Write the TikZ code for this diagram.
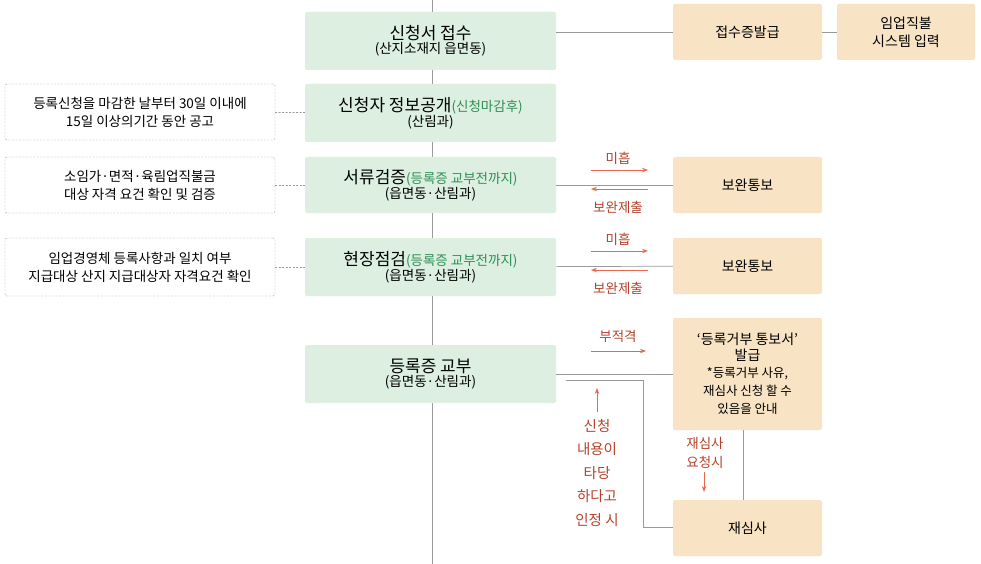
\documentclass[tikz,border=0pt]{standalone}
\usepackage{fontspec}
\setmainfont{Noto Sans CJK KR}
\usetikzlibrary{arrows.meta}
\definecolor{gf}{HTML}{DCEFE1}
\definecolor{bf}{HTML}{F8E4C4}
\definecolor{ar}{HTML}{E8674F}
\definecolor{tr}{HTML}{B5432C}
\definecolor{gt}{HTML}{2F8F55}
\definecolor{ln}{HTML}{9A9A9A}
\tikzset{
 gbox/.style={fill=gf,rounded corners=2pt,align=center,inner sep=0pt},
 bbox/.style={fill=bf,rounded corners=2pt,align=center,inner sep=0pt,font=\fontsize{14}{18}\selectfont},
 dbox/.style={draw=ln,dash pattern=on 2pt off 1.5pt,rounded corners=2pt,align=center,inner sep=0pt,font=\fontsize{13.5}{18}\selectfont},
 conn/.style={draw=ln,line width=0.7pt},
 dconn/.style={draw=ln,line width=0.7pt,dash pattern=on 2pt off 1.5pt},
 rarr/.style={draw=ar,line width=1pt,-{Stealth[length=6pt]}},
 rlab/.style={text=tr,font=\fontsize{13.5}{17}\selectfont,align=center},
}
\newcommand{\bt}[1]{{\fontsize{17}{21}\selectfont #1}}
\newcommand{\st}[1]{{\fontsize{13.5}{18}\selectfont #1}}
\newcommand{\bx}[6]{\node[#1,minimum width=#4pt,minimum height=#5pt] (#2) at (#3) {#6};}
\begin{document}
\begin{tikzpicture}[x=1pt,y=-1pt]
\useasboundingbox[fill=white] (0,0) rectangle (981,564);
\coordinate (vt) at (432,0); \coordinate (vb) at (432,564);
\draw[conn] (vt) -- (vb);
\bx{gbox}{a}{430.5,41}{251}{58}{\bt{신청서 접수}\\\st{(산지소재지 읍면동)}}
\bx{gbox}{b}{430.5,113}{251}{58}{\bt{신청자 정보공개}\st{\color{gt}(신청마감후)}\\\st{(산림과)}}
\bx{gbox}{c}{430.5,185}{251}{56}{\bt{서류검증}\st{\color{gt}(등록증 교부전까지)}\\\st{(읍면동·산림과)}}
\bx{gbox}{d}{430.5,267}{251}{58}{\bt{현장점검}\st{\color{gt}(등록증 교부전까지)}\\\st{(읍면동·산림과)}}
\bx{gbox}{e}{430.5,374}{251}{58}{\bt{등록증 교부}\\\st{(읍면동·산림과)}}
\bx{bbox}{r1}{747.5,32}{149}{56}{접수증발급}
\bx{bbox}{r2}{906,32}{138}{56}{임업직불\\시스템 입력}
\bx{bbox}{r3}{747.5,185}{149}{56}{보완통보}
\bx{bbox}{r4}{747.5,266}{149}{56}{보완통보}
\bx{bbox}{r5}{747.5,374}{149}{112}{‘등록거부 통보서’\\[-2pt]발급\\[-1pt]{\fontsize{12.5}{16}\selectfont *등록거부 사유,}\\{\fontsize{12.5}{16}\selectfont 재심사 신청 할 수}\\{\fontsize{12.5}{16}\selectfont 있음을 안내}}
\bx{bbox}{r6}{747.5,528}{149}{56}{재심사}
\bx{dbox}{l1}{140,112}{270}{56}{등록신청을 마감한 날부터 30일 이내에\\15일 이상의기간 동안 공고}
\bx{dbox}{l2}{140,185}{270}{56}{소임가·면적·육림업직불금\\대상 자격 요건 확인 및 검증}
\bx{dbox}{l3}{140,267}{270}{58}{임업경영체 등록사항과 일치 여부\\지급대상 산지 지급대상자 자격요건 확인}
\draw[conn] (a.east |- r1) -- (r1); \draw[conn] (r1) -- (r2);
\draw[conn] (c) -- (r3); \draw[conn] (d) -- (r4); \draw[conn] (e.east |- r5) -- (r5);
\draw[dconn] (l1) -- (b); \draw[dconn] (l2) -- (c); \draw[dconn] (l3) -- (d);
\coordinate (k1) at (566,380); \coordinate (k2) at (643,380); \coordinate (k3) at (643,527);
\draw[conn] (k1) -- (k2) -- (k3) -- (k3 -| r6.west);
\draw[conn] (r5.south -| 743,0) -- (r6.north -| 743,0);
\foreach \y/\n in {170/c,251/d}{
 \coordinate (s\n) at (591,\y); \coordinate (t\n) at (648,\y);
 \draw[rarr] (s\n) -- (t\n);
 \node[rlab] at (618,\y-12) {미흡};
 \coordinate (u\n) at (648,\y+19); \coordinate (w\n) at (591,\y+19);
 \draw[rarr] (u\n) -- (w\n);
 \node[rlab] at (618,\y+37) {보완제출};
}
\coordinate (s5) at (591,351); \coordinate (t5) at (646,351);
\draw[rarr] (s5) -- (t5); \node[rlab] at (618,336) {부적격};
\coordinate (up1) at (597,412); \coordinate (up2) at (597,388);
\draw[rarr] (up1) -- (up2);
\node[rlab,font=\fontsize{14.5}{23.5}\selectfont] at (597,473) {신청\\내용이\\타당\\하다고\\인정 시};
\node[rlab,font=\fontsize{13.5}{19}\selectfont] at (705,453) {재심사\\요청시};
\coordinate (dn1) at (704,472); \coordinate (dn2) at (704,492);
\draw[rarr] (dn1) -- (dn2);
\end{tikzpicture}
\end{document}
